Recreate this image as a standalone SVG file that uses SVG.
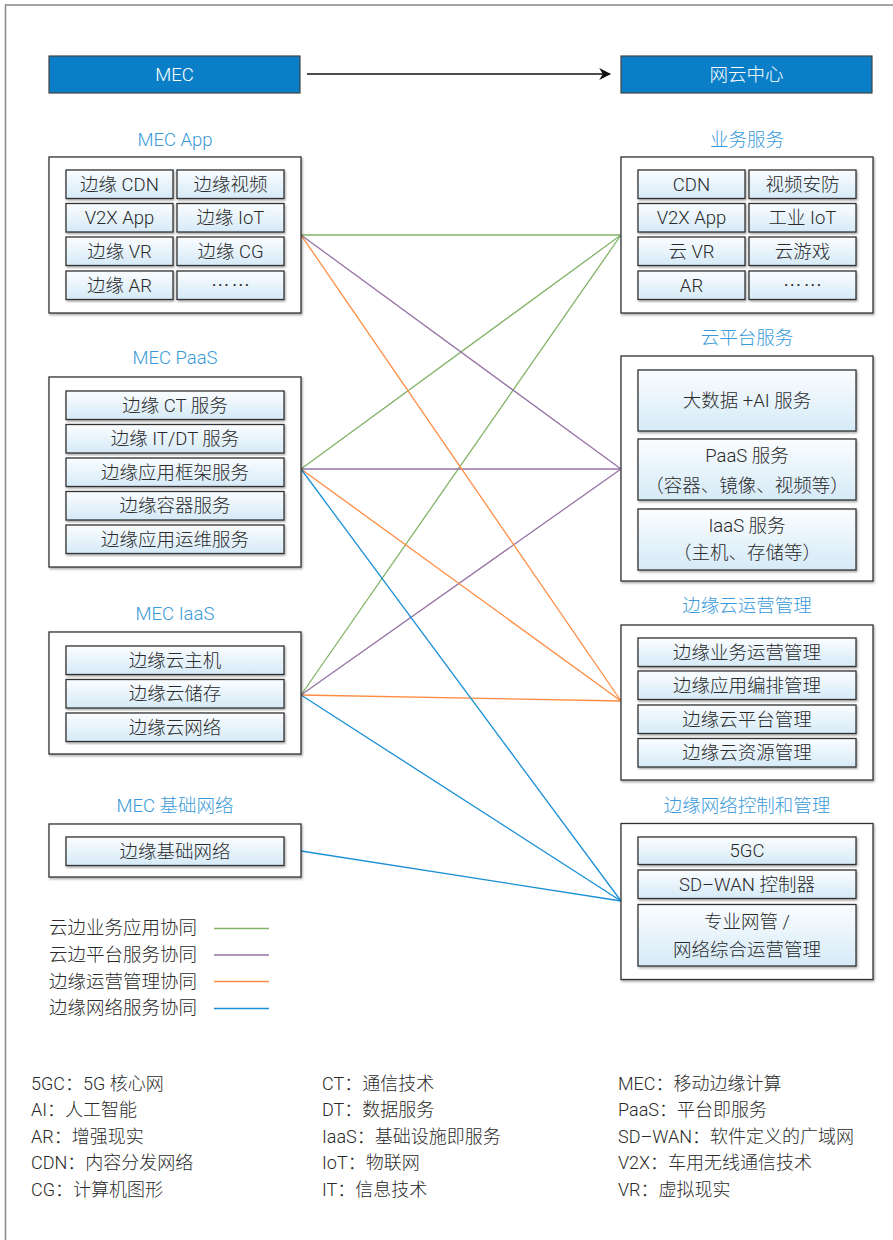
<svg xmlns="http://www.w3.org/2000/svg" width="893" height="1240" viewBox="0 0 893 1240">
<defs>
<linearGradient id="cg" x1="0" y1="0" x2="0" y2="1">
<stop offset="0" stop-color="#fbfdff"/>
<stop offset="1" stop-color="#d5eaf7"/>
</linearGradient>
<marker id="arr" viewBox="0 0 10 10" refX="9" refY="5" markerWidth="12" markerHeight="12" markerUnits="userSpaceOnUse" orient="auto">
<path d="M0,0 L10,5 L0,10 L3,5 Z" fill="#111"/>
</marker>
<filter id="sh" x="-5%" y="-5%" width="110%" height="115%">
<feDropShadow dx="1" dy="1.5" stdDeviation="0.8" flood-color="#000" flood-opacity="0.35"/>
</filter>
</defs>
<style>
text{font-family:"Roboto","Noto Sans CJK SC",sans-serif;font-size:18.5px;font-weight:300;fill:#2a2a2a;text-anchor:middle}
.hdr{fill:#0a7fc8;stroke:#444;stroke-width:1.2}
.hdrt{fill:#fff}
.ttl{fill:#3a9ad9}
.box{fill:#fff;stroke:#333;stroke-width:1.3;filter:url(#sh)}
.cell{fill:url(#cg);stroke:#333;stroke-width:1.3;filter:url(#sh)}
.lt{text-anchor:start}
.ab{text-anchor:start;font-size:18px}
.el{font-family:"Noto Sans CJK SC",sans-serif;letter-spacing:2px}
.g{stroke:#82b366;stroke-width:1.3;fill:none}
.p{stroke:#9673a6;stroke-width:1.3;fill:none}
.o{stroke:#ff8c42;stroke-width:1.3;fill:none}
.b{stroke:#1a8fd6;stroke-width:1.3;fill:none}
</style>
<rect x="0" y="0" width="893" height="1240" fill="#fff"/>
<rect x="5.5" y="5" width="900" height="1260" fill="none" stroke="#888" stroke-width="1.5"/>

<g id="hdr-mec">
<rect class="hdr" x="49" y="56" width="251" height="37"/>
<text class="hdrt" x="174.5" y="81">MEC</text>
</g>
<g id="hdr-cloud">
<rect class="hdr" x="621" y="56" width="251" height="37"/>
<text class="hdrt" x="746.5" y="81">网云中心</text>
</g>

<g id="connectors">
<line x1="307" y1="74" x2="610" y2="74" stroke="#111" stroke-width="1.5" marker-end="url(#arr)"/>
<line class="g" x1="301" y1="235" x2="621" y2="235"/>
<line class="g" x1="301" y1="469" x2="621" y2="235"/>
<line class="g" x1="301" y1="695" x2="621" y2="235"/>
<line class="p" x1="301" y1="235" x2="621" y2="469"/>
<line class="p" x1="301" y1="469" x2="621" y2="469"/>
<line class="p" x1="301" y1="695" x2="621" y2="469"/>
<line class="o" x1="301" y1="235" x2="621" y2="701"/>
<line class="o" x1="301" y1="469" x2="621" y2="701"/>
<line class="o" x1="301" y1="695" x2="621" y2="701"/>
<line class="b" x1="301" y1="469" x2="621" y2="901"/>
<line class="b" x1="301" y1="695" x2="621" y2="901"/>
<line class="b" x1="301" y1="851" x2="621" y2="901"/>
</g>

<g id="mec-app">
<text class="ttl" x="175" y="146">MEC App</text>
<rect class="box" x="49" y="157" width="252" height="156"/>
<rect class="cell" x="66" y="170" width="107" height="28.5"/><text x="119.5" y="190.5">边缘 CDN</text>
<rect class="cell" x="177" y="170" width="107" height="28.5"/><text x="230.5" y="190.5">边缘视频</text>
<rect class="cell" x="66" y="203.5" width="107" height="28.5"/><text x="119.5" y="224">V2X App</text>
<rect class="cell" x="177" y="203.5" width="107" height="28.5"/><text x="230.5" y="224">边缘 IoT</text>
<rect class="cell" x="66" y="237" width="107" height="28.5"/><text x="119.5" y="257.5">边缘 VR</text>
<rect class="cell" x="177" y="237" width="107" height="28.5"/><text x="230.5" y="257.5">边缘 CG</text>
<rect class="cell" x="66" y="271" width="107" height="28.5"/><text x="119.5" y="291.5">边缘 AR</text>
<rect class="cell" x="177" y="271" width="107" height="28.5"/><text class="el" x="231.5" y="291.5">……</text>
</g>

<g id="mec-paas">
<text class="ttl" x="175" y="364">MEC PaaS</text>
<rect class="box" x="49" y="377" width="252" height="190"/>
<rect class="cell" x="66" y="391" width="218" height="28.5"/><text x="175" y="411.5">边缘 CT 服务</text>
<rect class="cell" x="66" y="424.5" width="218" height="28.5"/><text x="175" y="445">边缘 IT/DT 服务</text>
<rect class="cell" x="66" y="458" width="218" height="28.5"/><text x="175" y="478.5">边缘应用框架服务</text>
<rect class="cell" x="66" y="491.5" width="218" height="28.5"/><text x="175" y="512">边缘容器服务</text>
<rect class="cell" x="66" y="525" width="218" height="28.5"/><text x="175" y="545.5">边缘应用运维服务</text>
</g>

<g id="mec-iaas">
<text class="ttl" x="175" y="620">MEC IaaS</text>
<rect class="box" x="49" y="632" width="252" height="122"/>
<rect class="cell" x="66" y="646" width="218" height="28.5"/><text x="175" y="666.5">边缘云主机</text>
<rect class="cell" x="66" y="679.5" width="218" height="28.5"/><text x="175" y="700">边缘云储存</text>
<rect class="cell" x="66" y="713" width="218" height="28.5"/><text x="175" y="733.5">边缘云网络</text>
</g>

<g id="mec-net">
<text class="ttl" x="175" y="812">MEC 基础网络</text>
<rect class="box" x="49" y="824" width="252" height="53"/>
<rect class="cell" x="66" y="837" width="218" height="28.5"/><text x="175" y="857.5">边缘基础网络</text>
</g>

<g id="biz">
<text class="ttl" x="747" y="146">业务服务</text>
<rect class="box" x="621" y="157" width="252" height="156"/>
<rect class="cell" x="638" y="170" width="107" height="28.5"/><text x="691.5" y="190.5">CDN</text>
<rect class="cell" x="749" y="170" width="107" height="28.5"/><text x="802.5" y="190.5">视频安防</text>
<rect class="cell" x="638" y="203.5" width="107" height="28.5"/><text x="691.5" y="224">V2X App</text>
<rect class="cell" x="749" y="203.5" width="107" height="28.5"/><text x="802.5" y="224">工业 IoT</text>
<rect class="cell" x="638" y="237" width="107" height="28.5"/><text x="691.5" y="257.5">云 VR</text>
<rect class="cell" x="749" y="237" width="107" height="28.5"/><text x="802.5" y="257.5">云游戏</text>
<rect class="cell" x="638" y="271" width="107" height="28.5"/><text x="691.5" y="291.5">AR</text>
<rect class="cell" x="749" y="271" width="107" height="28.5"/><text class="el" x="803.5" y="291.5">……</text>
</g>

<g id="platform">
<text class="ttl" x="747" y="344">云平台服务</text>
<rect class="box" x="621" y="356" width="252" height="225"/>
<rect class="cell" x="638" y="370" width="218" height="61"/><text x="747" y="407">大数据 +AI 服务</text>
<rect class="cell" x="638" y="439" width="218" height="61"/><text x="747" y="462">PaaS 服务</text><text x="747" y="492">（容器、镜像、视频等）</text>
<rect class="cell" x="638" y="509" width="218" height="61"/><text x="747" y="532">IaaS 服务</text><text x="747" y="559">（主机、存储等）</text>
</g>

<g id="ops">
<text class="ttl" x="747" y="612">边缘云运营管理</text>
<rect class="box" x="621" y="625" width="252" height="155"/>
<rect class="cell" x="638" y="638" width="218" height="28.5"/><text x="747" y="658.5">边缘业务运营管理</text>
<rect class="cell" x="638" y="671" width="218" height="28.5"/><text x="747" y="691.5">边缘应用编排管理</text>
<rect class="cell" x="638" y="705" width="218" height="28.5"/><text x="747" y="725.5">边缘云平台管理</text>
<rect class="cell" x="638" y="738.5" width="218" height="28.5"/><text x="747" y="759">边缘云资源管理</text>
</g>

<g id="netctl">
<text class="ttl" x="747" y="812">边缘网络控制和管理</text>
<rect class="box" x="621" y="823.5" width="252" height="156"/>
<rect class="cell" x="638" y="837" width="218" height="27.5"/><text x="747" y="857">5GC</text>
<rect class="cell" x="638" y="870" width="218" height="28.5"/><text x="747" y="890.5">SD–WAN 控制器</text>
<rect class="cell" x="638" y="904.5" width="218" height="61.5"/><text x="747" y="928">专业网管 /</text><text x="747" y="956">网络综合运营管理</text>
</g>

<g id="legend">
<text class="lt" x="49" y="934">云边业务应用协同</text>
<text class="lt" x="49" y="961">云边平台服务协同</text>
<text class="lt" x="49" y="988">边缘运营管理协同</text>
<text class="lt" x="49" y="1014">边缘网络服务协同</text>
<line class="g" x1="214" y1="928.5" x2="269" y2="928.5" stroke-width="1.6"/>
<line class="p" x1="214" y1="955" x2="269" y2="955" stroke-width="1.6"/>
<line class="o" x1="214" y1="981.5" x2="269" y2="981.5" stroke-width="1.6"/>
<line class="b" x1="214" y1="1008.5" x2="269" y2="1008.5" stroke-width="1.6"/>
</g>

<g id="abbr">
<text class="ab" x="31" y="1090">5GC：5G 核心网</text>
<text class="ab" x="31" y="1116">AI：人工智能</text>
<text class="ab" x="31" y="1143">AR：增强现实</text>
<text class="ab" x="31" y="1169">CDN：内容分发网络</text>
<text class="ab" x="31" y="1196">CG：计算机图形</text>
<text class="ab" x="322" y="1090">CT：通信技术</text>
<text class="ab" x="322" y="1116">DT：数据服务</text>
<text class="ab" x="322" y="1143">IaaS：基础设施即服务</text>
<text class="ab" x="322" y="1169">IoT：物联网</text>
<text class="ab" x="322" y="1196">IT：信息技术</text>
<text class="ab" x="618" y="1090">MEC：移动边缘计算</text>
<text class="ab" x="618" y="1116">PaaS：平台即服务</text>
<text class="ab" x="618" y="1143">SD–WAN：软件定义的广域网</text>
<text class="ab" x="618" y="1169">V2X：车用无线通信技术</text>
<text class="ab" x="618" y="1196">VR：虚拟现实</text>
</g>
</svg>
